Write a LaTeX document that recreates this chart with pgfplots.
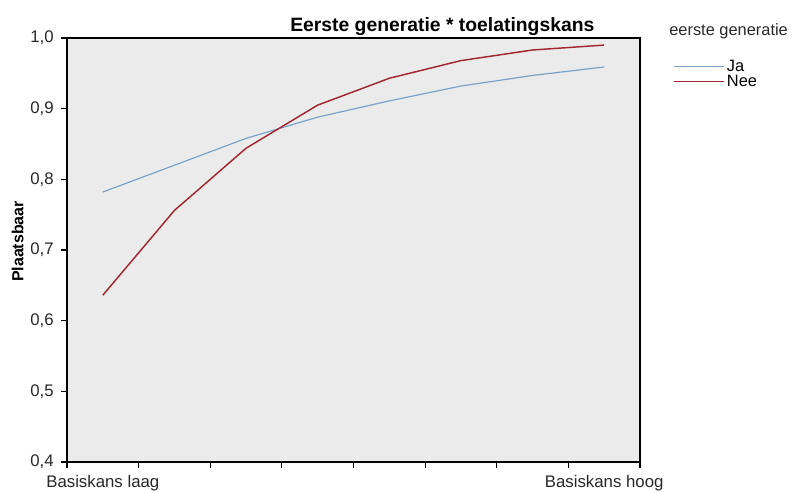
\documentclass[border=0pt]{standalone}
\usepackage{fontspec}
\setmainfont{Liberation Sans}
\usepackage{pgfplots}
\pgfplotsset{compat=1.18}
\definecolor{ja}{RGB}{125,162,202}
\definecolor{nee}{RGB}{160,40,52}
\definecolor{bg}{RGB}{235,235,235}
\definecolor{txt}{RGB}{40,40,40}
\begin{document}
\begin{tikzpicture}
\useasboundingbox (0,0) rectangle (595.5pt,369.75pt);
\begin{axis}[
  at={(50.25pt,23.25pt)}, anchor=south west,
  scale only axis, width=429.75pt, height=318pt,
  xmin=0.5, xmax=8.5, ymin=0.4, ymax=1.0,
  axis background/.style={fill=bg},
  axis line style={black, line width=0.9pt},
  every tick/.style={black, line width=0.8pt},
  tick align=outside, major tick length=4.5pt,
  xtick={0.5,1.5,...,8.5}, xticklabels={},
  extra x ticks={1,8}, extra x tick labels={Basiskans laag,Basiskans hoog},
  extra x tick style={major tick length=0pt, tick label style={yshift=-6.5pt}},
  ytick={0.4,0.5,...,1.0},
  yticklabel style={xshift=-2pt, /pgf/number format/.cd, fixed, fixed zerofill, precision=1, use comma, assume math mode=true},
  tick label style={font=\fontsize{12.6}{14}\selectfont, text=txt},
  xtick pos=bottom, ytick pos=left,
  ylabel={Plaatsbaar},
  ylabel style={font=\bfseries\fontsize{12}{14}\selectfont, at={(axis description cs:-0.086,0.52)}, anchor=center},
  title={Eerste generatie * toelatingskans},
  title style={font=\bfseries\fontsize{14.5}{16}\selectfont, at={(axis description cs:0.655,1)}, anchor=base, yshift=-1.5pt},
  legend style={at={(axis description cs:1.058,0.915)}, anchor=west, draw=none, fill=none,
    font=\fontsize{12.3}{13}\selectfont, inner sep=0pt, row sep=-2.5pt, cells={anchor=west}},
  legend image code/.code={\draw[#1] (0pt,0pt) -- (37pt,0pt);},
  clip=false,
]
\addplot[ja, line width=0.9pt] coordinates {(1,0.782) (2,0.820) (3,0.858) (4,0.888) (5,0.911) (6,0.932) (7,0.947) (8,0.959)};
\addlegendentry{Ja}
\addplot[nee, line width=1.1pt] coordinates {(1,0.636) (2,0.756) (3,0.844) (4,0.905) (5,0.943) (6,0.968) (7,0.983) (8,0.990)};
\addlegendentry{Nee}
\node[anchor=west, font=\fontsize{12.3}{14}\selectfont, text=txt] at (axis description cs:1.043,1.015) {eerste generatie};
\end{axis}
\end{tikzpicture}
\end{document}
